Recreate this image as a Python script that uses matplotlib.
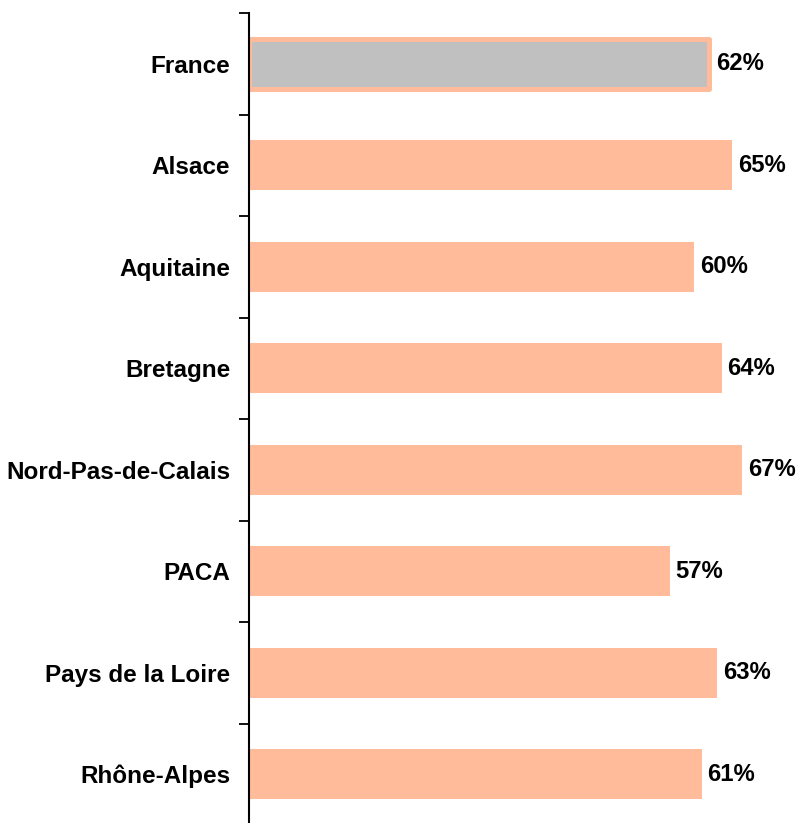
import matplotlib.pyplot as plt
import numpy as np

regions = ["France", "Alsace", "Aquitaine", "Bretagne", "Nord-Pas-de-Calais",
           "PACA", "Pays de la Loire", "Rhône-Alpes"]
shares = [0.62, 0.651, 0.60, 0.637, 0.665, 0.567, 0.631, 0.610]
labels = ["62%", "65%", "60%", "64%", "67%", "57%", "63%", "61%"]

orange = "#FFBB9A"
grey = "#C0C0C0"

plt.rcParams['font.family'] = ['Liberation Sans', 'DejaVu Sans']

fig = plt.figure(figsize=(7.98, 8.23), dpi=100)
ax = fig.add_axes([249 / 798, -2 / 823, 549 / 798, 812 / 823])

y = np.arange(len(regions))
face = [grey] + [orange] * (len(regions) - 1)
bars = ax.barh(y, shares, height=0.49, color=face, zorder=2)
# France is highlighted: grey fill with an orange rim
bars[0].set_edgecolor(orange)
bars[0].set_linewidth(3.6)
bars[0].set_joinstyle('round')

for i, (v, lab) in enumerate(zip(shares, labels)):
    pad = 0.010 if i == 0 else 0.008
    ax.text(v + pad, i, lab, va='center', ha='left', fontsize=17.2, fontweight='bold')

ax.set_xlim(0, 0.74)
ax.set_ylim(len(regions) - 0.5, -0.5)

ax.set_yticks(y)
ax.set_yticklabels(regions, fontsize=17.5, fontweight='bold')
ax.tick_params(axis='y', which='major', length=0, pad=13.5)
ax.set_yticks(np.arange(-0.5, len(regions)), minor=True)
ax.tick_params(axis='y', which='minor', length=7, width=1.3, direction='out')

ax.set_xticks([])
for side in ['top', 'right', 'bottom']:
    ax.spines[side].set_visible(False)
ax.spines['left'].set_linewidth(1.5)

fig.savefig("out.png", dpi=100)
